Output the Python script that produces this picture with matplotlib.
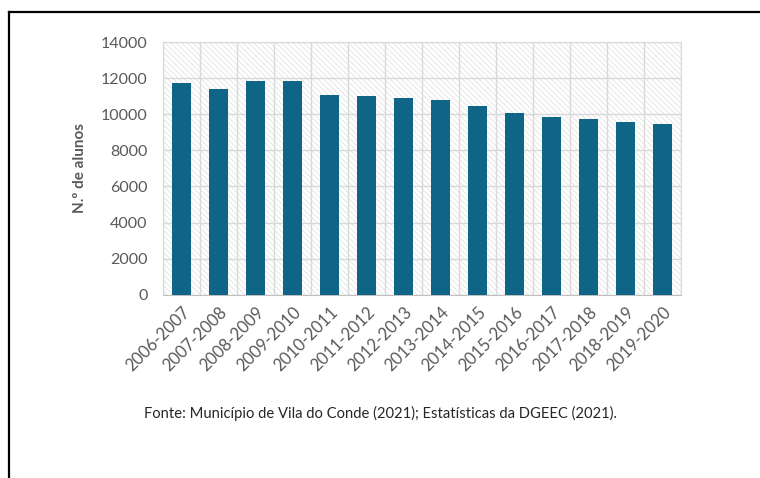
import matplotlib
matplotlib.use("Agg")
import matplotlib.pyplot as plt
from matplotlib.patches import Rectangle
from matplotlib.lines import Line2D
import numpy as np

anos = ["2006-2007", "2007-2008", "2008-2009", "2009-2010", "2010-2011",
        "2011-2012", "2012-2013", "2013-2014", "2014-2015", "2015-2016",
        "2016-2017", "2017-2018", "2018-2019", "2019-2020"]
alunos = [11760, 11410, 11870, 11870, 11070, 11010, 10910, 10800,
          10460, 10060, 9850, 9750, 9570, 9470]
y_ticks = [0, 2000, 4000, 6000, 8000, 10000, 12000, 14000]

plt.rcParams["font.family"] = ["Lato", "DejaVu Sans"]
plt.rcParams["hatch.linewidth"] = 0.6

fig = plt.figure(figsize=(7.6, 4.78), dpi=100)
ax = fig.add_axes([0.2145, 0.3837, 0.6815, 0.5278])

# textured plot-area background
bg = Rectangle((0, 0), 1, 1, transform=ax.transAxes, facecolor="white",
               edgecolor="#e2e2e2", hatch="\\\\\\\\\\\\", linewidth=0, zorder=0)
ax.add_patch(bg)
ax.patch.set_visible(False)

x = np.arange(len(anos))
ax.bar(x, alunos, width=0.53, color="#0e6585", zorder=3)

ax.set_xlim(-0.5, len(anos) - 0.5)
ax.set_ylim(0, 14000)
ax.set_yticks(y_ticks)
ax.set_yticklabels([str(v) for v in y_ticks])
ax.set_xticks(x)
ax.set_xticklabels(anos, rotation=45, ha="right", rotation_mode="anchor")

# grid: horizontal at major ticks, vertical between categories
ax.set_xticks(np.arange(len(anos) + 1) - 0.5, minor=True)
ax.grid(axis="y", which="major", color="#d9d9d9", linewidth=1.0, zorder=1)
ax.grid(axis="x", which="minor", color="#d9d9d9", linewidth=1.0, zorder=1)
ax.tick_params(axis="both", which="both", length=0)
ax.tick_params(axis="y", pad=11, labelsize=11.5, labelcolor="#595959")
ax.tick_params(axis="x", pad=7, labelsize=12, labelcolor="#595959")

for side in ["top", "right", "left"]:
    ax.spines[side].set_color("#d9d9d9")
ax.spines["bottom"].set_color("#bfbfbf")

ax.set_ylabel("N.º de alunos", fontsize=11, fontweight="bold", color="#595959",
              labelpad=10)

fig.text(0.5, 0.135, "Fonte: Município de Vila do Conde (2021); Estatísticas da DGEEC (2021).",
         ha="center", va="center", fontsize=10.6, color="#262626")

# frame lines along top and left edges
fig.add_artist(Line2D([9 / 760, 1.0], [1 - 12 / 478, 1 - 12 / 478],
                      transform=fig.transFigure, color="black", linewidth=1.6))
fig.add_artist(Line2D([9 / 760, 9 / 760], [0, 1 - 12 / 478],
                      transform=fig.transFigure, color="black", linewidth=1.6))

fig.savefig("out.png", dpi=100)
